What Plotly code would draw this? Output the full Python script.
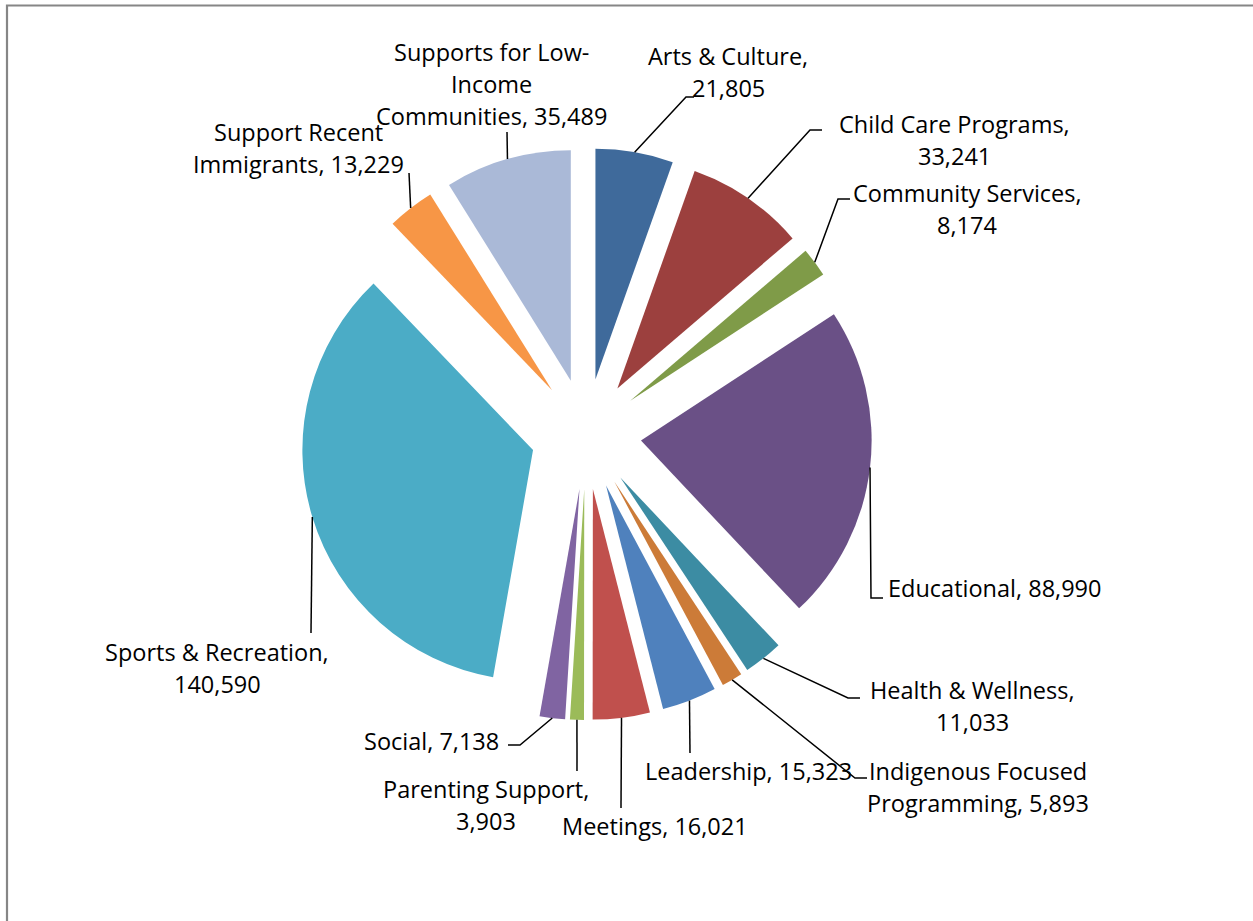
import math
import plotly.graph_objects as go

# ---------------- data ----------------
categories = [
    "Arts & Culture", "Child Care Programs", "Community Services", "Educational",
    "Health & Wellness", "Indigenous Focused Programming", "Leadership", "Meetings",
    "Parenting Support", "Social", "Sports & Recreation", "Support Recent Immigrants",
    "Supports for Low-Income Communities",
]
values = [21805, 33241, 8174, 88990, 11033, 5893, 15323, 16021, 3903, 7138, 140590, 13229, 35489]
colors = [
    "#3F6A9B", "#9C403E", "#7F9B48", "#6A5086", "#3C8CA3", "#CC7B38", "#4F81BD",
    "#C0504D", "#9BBB59", "#8064A2", "#4BACC6", "#F79646", "#AAB9D7",
]

# ---------------- layout / style ----------------
W, H = 1253, 921
PULL = 0.24
DOM_X = [300 / W, 872 / W]
DOM_Y = [1 - 720 / H, 1 - 148 / H]
FONT = "Open Sans"
FSIZE = 23.5
LINE_H = 32

# label wrapping cuts, line centre x, first line y, leader points (pixels)
label_cuts = [[","], [","], [","], [], [","], ["Indigenous Focused"], [], [], [","], [], [","],
              ["Recent"], ["Low-", "Income"]]
label_x = [728, 954, 967, 995, 972, 978, 748, 655, 486, 431, 217, 298, 491]
label_y = [56, 124, 193, 588, 690, 771, 771, 826, 789, 741, 652, 132, 52]
leader_pts = [
    [(686, 97), (694, 97)],
    [(810, 130), (822, 130)],
    [(838, 199), (850, 199)],
    [(871, 598), (883, 598)],
    [(848, 698), (860, 698)],
    [(855, 778), (867, 778)],
    [(690, 753)],
    [(621, 808)],
    [(577, 771)],
    [(520, 745), (508, 745)],
    [(311, 633)],
    [(409, 173)],
    [(507, 132)],
]


def split_lines(text, cuts):
    out = []
    for c in cuts:
        i = text.index(c) + len(c)
        out.append(text[:i].strip())
        text = text[i:]
    out.append(text.strip())
    return out


def px(x):
    return x / W


def py(y):
    return 1 - y / H


fig = go.Figure(go.Pie(
    labels=categories, values=values, sort=False, direction="clockwise", rotation=0,
    pull=[PULL] * len(values), marker=dict(colors=colors, line=dict(width=0)),
    textinfo="none", hoverinfo="label+value", showlegend=False,
    domain=dict(x=DOM_X, y=DOM_Y),
))

# geometry of pie (same as plotly's own scaling)
cx = (DOM_X[0] + DOM_X[1]) / 2 * W
cy = (1 - (DOM_Y[0] + DOM_Y[1]) / 2) * H
half = min((DOM_X[1] - DOM_X[0]) * W, (DOM_Y[1] - DOM_Y[0]) * H) / 2
R = half / (1 + PULL)
total = sum(values)

annotations = []
shapes = []
cum = 0
for i, (cat, v) in enumerate(zip(categories, values)):
    mid = (cum + v / 2) / total * 2 * math.pi
    cum += v
    dist = R * (1 + PULL)
    ax = cx + dist * math.sin(mid)
    ay = cy - dist * math.cos(mid)
    pts = [(ax, ay)] + leader_pts[i]
    path = "M " + " L ".join(f"{px(x):.5f},{py(y):.5f}" for x, y in pts)
    shapes.append(dict(type="path", xref="paper", yref="paper", path=path,
                       line=dict(color="#000000", width=1.5)))
    lines = split_lines(f"{cat}, {v:,}", label_cuts[i])
    for k, ln in enumerate(lines):
        annotations.append(dict(
            text=ln, xref="paper", yref="paper", x=px(label_x[i]),
            y=py(label_y[i] + k * LINE_H), xanchor="center", yanchor="middle",
            showarrow=False, font=dict(family=FONT, size=FSIZE, color="#000000"),
        ))

# chart-area border (partially outside the view)
shapes.append(dict(type="rect", xref="paper", yref="paper", x0=px(7), x1=1.02,
                   y0=-0.05, y1=py(5.5), line=dict(color="#868686", width=2.2),
                   fillcolor="rgba(0,0,0,0)", layer="below"))

fig.update_layout(
    width=W, height=H, autosize=False,
    margin=dict(l=0, r=0, t=0, b=0),
    paper_bgcolor="white", plot_bgcolor="white",
    annotations=annotations, shapes=shapes,
)

fig.write_html("out.html")
